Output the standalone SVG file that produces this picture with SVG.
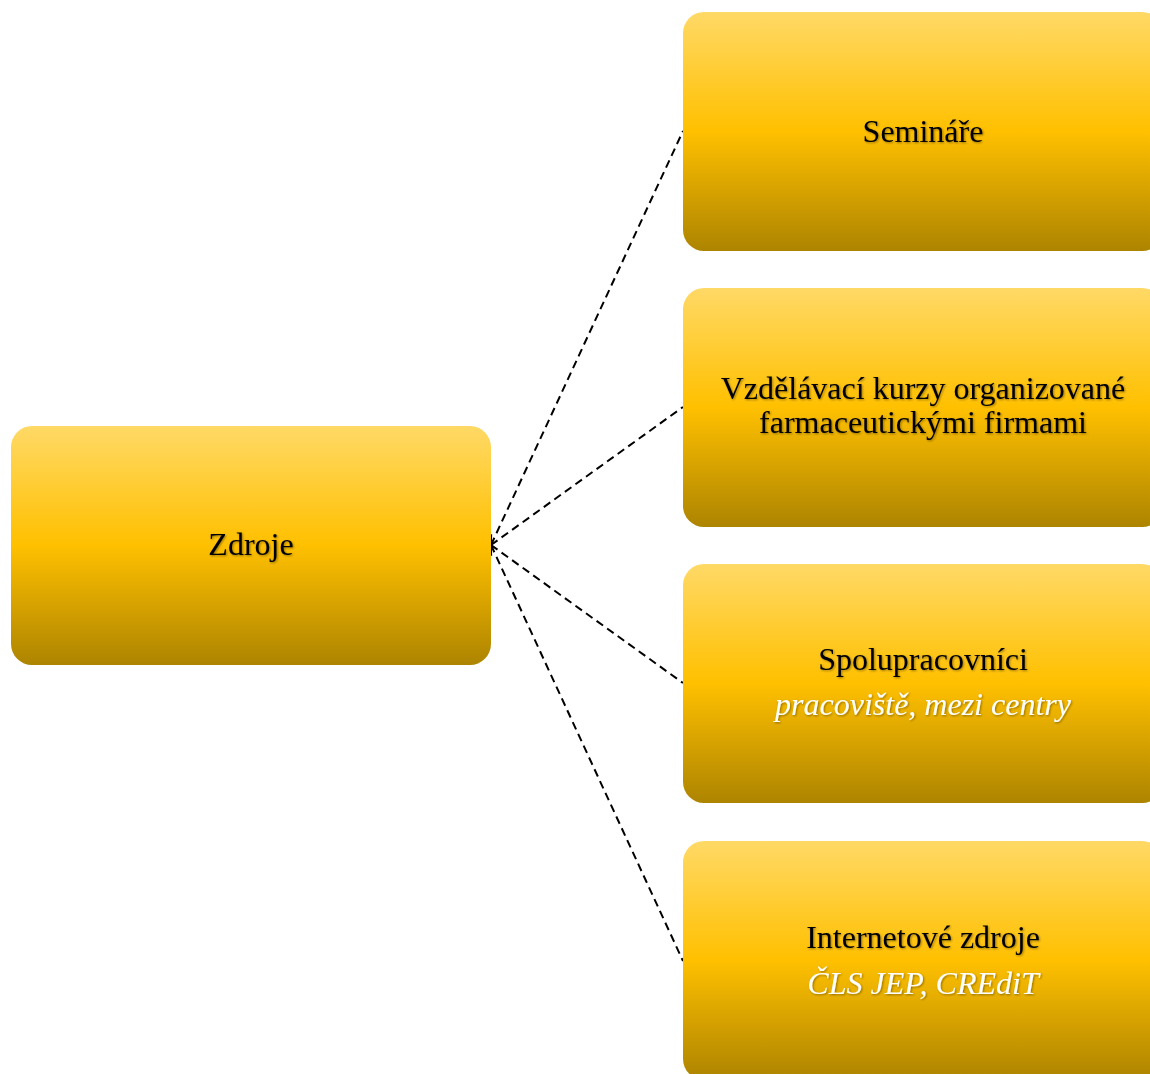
<svg xmlns="http://www.w3.org/2000/svg" width="1150" height="1074" viewBox="0 0 1150 1074">
  <defs>
    <linearGradient id="gold" x1="0" y1="0" x2="0" y2="1">
      <stop offset="0" stop-color="#FFD966"/>
      <stop offset="0.5" stop-color="#FFC000"/>
      <stop offset="1" stop-color="#AD8400"/>
    </linearGradient>
    <filter id="shadow" x="-10%" y="-30%" width="120%" height="160%">
      <feGaussianBlur in="SourceAlpha" stdDeviation="1.3"/>
      <feOffset dx="1.2" dy="1.2" result="b"/>
      <feComponentTransfer><feFuncA type="linear" slope="0.4"/></feComponentTransfer>
      <feMerge><feMergeNode/><feMergeNode in="SourceGraphic"/></feMerge>
    </filter>
    <marker id="chev" viewBox="0 0 10 10" refX="1" refY="5" markerWidth="6" markerHeight="6" orient="auto-start-reverse" markerUnits="strokeWidth">
      <path d="M9,1 L1,5 L9,9" fill="none" stroke="#000" stroke-width="1.4"/>
    </marker>
    <style>
      .box { fill: url(#gold); }
      .t { font-family: "Liberation Serif", "Times New Roman", serif; font-size: 32px; text-anchor: middle; fill: #000; filter: url(#shadow); }
      .i { font-style: italic; fill: #fff; }
      .link { stroke: #000; stroke-width: 2; stroke-dasharray: 8 5; fill: none; marker-start: url(#chev); }
    </style>
  </defs>

  <g id="connectors">
    <line class="link" x1="491" y1="545" x2="683" y2="131"/>
    <line class="link" x1="491" y1="545" x2="683" y2="407"/>
    <line class="link" x1="491" y1="545" x2="683" y2="683"/>
    <line class="link" x1="491" y1="545" x2="683" y2="961"/>
  </g>

  <g id="zdroje">
    <rect class="box" x="11" y="426" width="480" height="239" rx="21"/>
    <text class="t" x="251" y="555">Zdroje</text>
  </g>

  <g id="seminare">
    <rect class="box" x="683" y="12" width="480" height="239" rx="21"/>
    <text class="t" x="923" y="142">Semináře</text>
  </g>

  <g id="kurzy">
    <rect class="box" x="683" y="288" width="480" height="239" rx="21"/>
    <text class="t" x="923" y="399">Vzdělávací kurzy organizované</text>
    <text class="t" x="923" y="433">farmaceutickými firmami</text>
  </g>

  <g id="spolupracovnici">
    <rect class="box" x="683" y="564" width="480" height="239" rx="21"/>
    <text class="t" x="923" y="670">Spolupracovníci</text>
    <text class="t i" x="923" y="715">pracoviště, mezi centry</text>
  </g>

  <g id="internet">
    <rect class="box" x="683" y="841" width="480" height="239" rx="21"/>
    <text class="t" x="923" y="948">Internetové zdroje</text>
    <text class="t i" x="923" y="994">ČLS JEP, CREdiT</text>
  </g>
</svg>
